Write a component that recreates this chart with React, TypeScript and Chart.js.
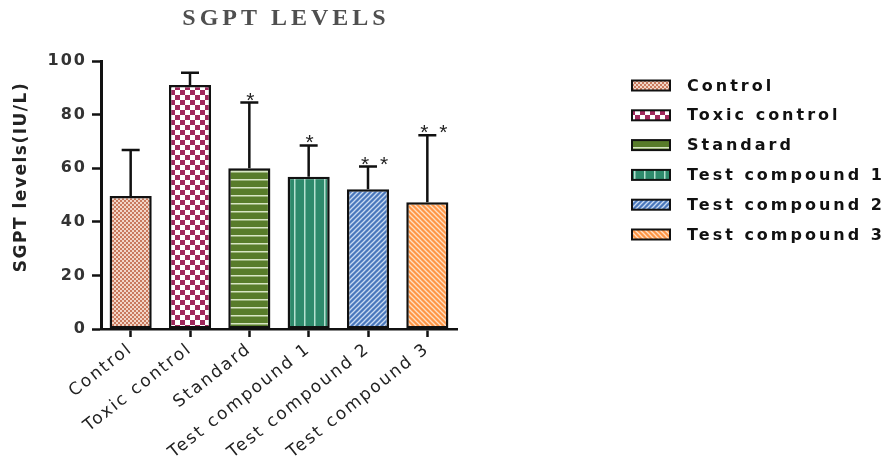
import React, { useEffect, useRef } from 'react';
import { Chart, registerables } from 'chart.js';

Chart.register(...registerables);

const chartTitle = 'SGPT LEVELS';
const yAxisTitle = 'SGPT levels(IU/L)';
const categories = ['Control', 'Toxic control', 'Standard', 'Test compound 1', 'Test compound 2', 'Test compound 3'];
const means = [49.6, 91, 60, 56.8, 52.1, 47.3];
const errors = [17.2, 4.6, 24.5, 11.7, 8.5, 25];
const significance = ['', '', '*', '*', '**', '**'];
const yTicks = [0, 20, 40, 60, 80, 100];
const patternKinds = ['fineCheck', 'bigCheck', 'hStripe', 'vStripe', 'diagUp', 'diagDown'];

const SANS = '"DejaVu Sans", "Liberation Sans", Arial, sans-serif';

function makePattern(kind: string): CanvasPattern | string {
  const c = document.createElement('canvas');
  const g = c.getContext('2d');
  if (!g) return '#999';
  if (kind === 'fineCheck') {
    c.width = 4; c.height = 4;
    g.fillStyle = '#f2d6c8'; g.fillRect(0, 0, 4, 4);
    g.fillStyle = '#c97a5e'; g.fillRect(0, 0, 2, 2); g.fillRect(2, 2, 2, 2);
  } else if (kind === 'bigCheck') {
    c.width = 10; c.height = 10;
    g.fillStyle = '#ffffff'; g.fillRect(0, 0, 10, 10);
    g.fillStyle = '#a0285c'; g.fillRect(0, 0, 5, 5); g.fillRect(5, 5, 5, 5);
  } else if (kind === 'hStripe') {
    c.width = 8; c.height = 8;
    g.fillStyle = '#587c2a'; g.fillRect(0, 0, 8, 8);
    g.fillStyle = '#d8e6c4'; g.fillRect(0, 3, 8, 1.5);
  } else if (kind === 'vStripe') {
    c.width = 10; c.height = 10;
    g.fillStyle = '#2e8a6c'; g.fillRect(0, 0, 10, 10);
    g.fillStyle = '#b4e0d0'; g.fillRect(4, 0, 1.5, 10);
  } else if (kind === 'diagUp') {
    c.width = 5; c.height = 5;
    g.fillStyle = '#4a78bc'; g.fillRect(0, 0, 5, 5);
    g.strokeStyle = '#c8daf2'; g.lineWidth = 1.3;
    g.beginPath(); g.moveTo(-1, 6); g.lineTo(6, -1); g.stroke();
    g.beginPath(); g.moveTo(-1, 1); g.lineTo(1, -1); g.stroke();
    g.beginPath(); g.moveTo(4, 6); g.lineTo(6, 4); g.stroke();
  } else {
    c.width = 5; c.height = 5;
    g.fillStyle = '#ff9646'; g.fillRect(0, 0, 5, 5);
    g.strokeStyle = '#ffe0c4'; g.lineWidth = 1.3;
    g.beginPath(); g.moveTo(-1, -1); g.lineTo(6, 6); g.stroke();
    g.beginPath(); g.moveTo(4, -1); g.lineTo(6, 1); g.stroke();
    g.beginPath(); g.moveTo(-1, 4); g.lineTo(1, 6); g.stroke();
  }
  return g.createPattern(c, 'repeat') || '#999';
}

export default function App() {
  const ref = useRef<HTMLCanvasElement | null>(null);

  useEffect(() => {
    if (!ref.current) return;
    const patterns = patternKinds.map(makePattern);

    const spacingPlugin = {
      id: 'spacing',
      beforeDraw: (chart: any) => {
        (chart.ctx as any).letterSpacing = '2px';
      },
    };

    const extrasPlugin = {
      id: 'extras',
      afterDatasetsDraw: (chart: any) => {
        const ctx = chart.ctx as CanvasRenderingContext2D;
        const meta = chart.getDatasetMeta(0);
        const yScale = chart.scales.y;
        ctx.save();
        (ctx as any).letterSpacing = '0px';
        ctx.strokeStyle = '#111';
        ctx.lineWidth = 2.5;
        meta.data.forEach((el: any, i: number) => {
          const x = el.x;
          const yTop = yScale.getPixelForValue(means[i] + errors[i]);
          ctx.beginPath();
          ctx.moveTo(x, el.y);
          ctx.lineTo(x, yTop);
          ctx.moveTo(x - 9, yTop);
          ctx.lineTo(x + 9, yTop);
          ctx.stroke();
          const stars = significance[i].length;
          ctx.fillStyle = '#222';
          ctx.font = '21px "Liberation Sans", Arial, sans-serif';
          ctx.textAlign = 'center';
          ctx.textBaseline = 'alphabetic';
          for (let k = 0; k < stars; k++) {
            const sx = x + (stars > 1 ? -3 + k * 19 : 1);
            ctx.fillText('*', sx, yTop + 4);
          }
        });
        ctx.restore();
      },
      afterDraw: (chart: any) => {
        const ctx = chart.ctx as CanvasRenderingContext2D;
        ctx.save();
        // title
        (ctx as any).letterSpacing = '4px';
        ctx.font = 'bold 24px "Liberation Serif", "Times New Roman", serif';
        ctx.fillStyle = '#4f4f4f';
        ctx.textAlign = 'center';
        ctx.textBaseline = 'middle';
        ctx.fillText(chartTitle, 286, 19);
        // y axis title
        ctx.save();
        (ctx as any).letterSpacing = '1.5px';
        ctx.translate(22, 177);
        ctx.rotate(-Math.PI / 2);
        ctx.font = 'bold 17px ' + SANS;
        ctx.fillStyle = '#222';
        ctx.fillText(yAxisTitle, 0, 0);
        ctx.restore();
        // legend
        (ctx as any).letterSpacing = '3px';
        ctx.font = 'bold 16px ' + SANS;
        ctx.textAlign = 'left';
        ctx.textBaseline = 'middle';
        categories.forEach((name, i) => {
          const cy = 85.5 + i * 29.8;
          ctx.fillStyle = patterns[i] as any;
          ctx.fillRect(632, cy - 5, 38, 10);
          ctx.strokeStyle = '#111';
          ctx.lineWidth = 2;
          ctx.strokeRect(632, cy - 5, 38, 10);
          ctx.fillStyle = '#111';
          ctx.fillText(name, 687, cy + 1);
        });
        ctx.restore();
      },
    };

    const chart = new Chart(ref.current, {
      type: 'bar',
      data: {
        labels: categories,
        datasets: [
          {
            data: means,
            backgroundColor: patterns as any,
            borderColor: '#111',
            borderWidth: 2.5,
            borderSkipped: false,
            barPercentage: 0.71,
            categoryPercentage: 1,
          },
        ],
      },
      options: {
        responsive: false,
        animation: false,
        devicePixelRatio: 1,
        layout: { padding: { top: 61, right: 434, bottom: 0, left: 0 } },
        plugins: {
          legend: { display: false },
          title: { display: false },
          tooltip: { enabled: false },
        },
        scales: {
          x: {
            ticks: {
              color: '#222',
              font: { family: SANS, size: 17 },
              minRotation: 38,
              maxRotation: 38,
              autoSkip: false,
              padding: 2,
            },
            grid: {
              display: true,
              drawOnChartArea: false,
              drawTicks: true,
              tickLength: 8,
              tickColor: '#111',
              tickWidth: 2.5,
              offset: false,
            },
            border: { display: true, color: '#111', width: 2.5 },
            afterFit: (s: any) => {
              s.height = 472 - 329;
            },
          },
          y: {
            min: 0,
            max: 100,
            afterBuildTicks: (s: any) => {
              s.ticks = yTicks.map((v) => ({ value: v }));
            },
            ticks: {
              color: '#333',
              font: { family: SANS, size: 16, weight: 'bold' },
              padding: 5,
            },
            grid: {
              display: true,
              drawOnChartArea: false,
              drawTicks: true,
              tickLength: 9,
              tickColor: '#111',
              tickWidth: 2.5,
            },
            border: { display: true, color: '#111', width: 3 },
            afterFit: (s: any) => {
              s.width = 101;
            },
          },
        },
      },
      plugins: [spacingPlugin, extrasPlugin],
    });

    return () => chart.destroy();
  }, []);

  return (
    <div style={{ position: 'fixed', left: 0, top: 0, width: 891, height: 472, background: '#fff' }}>
      <canvas ref={ref} width={891} height={472} />
    </div>
  );
}
